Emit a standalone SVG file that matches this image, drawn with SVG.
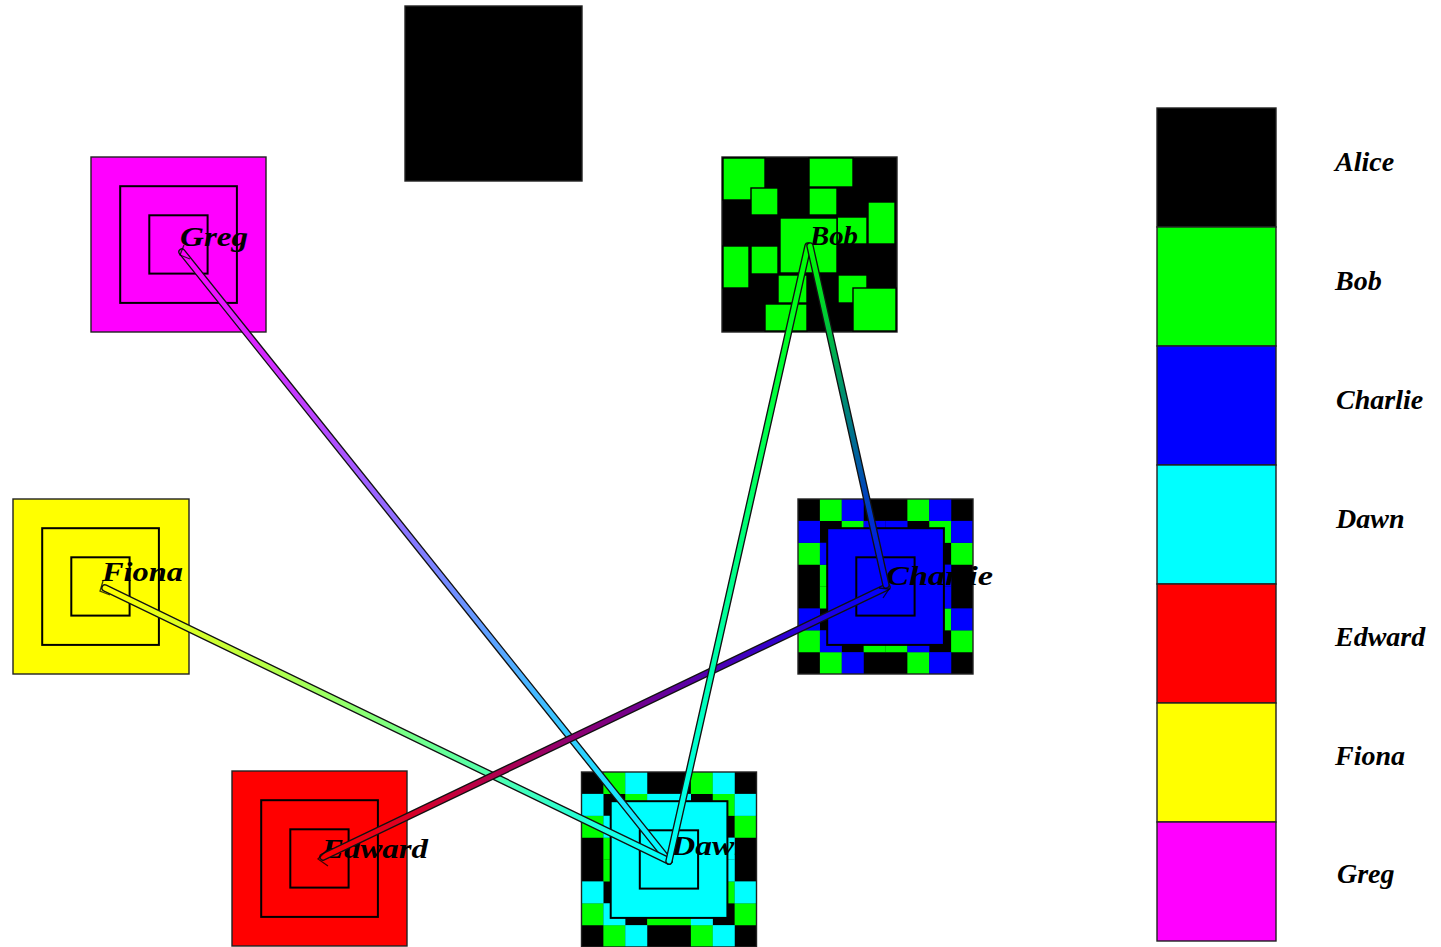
<svg xmlns="http://www.w3.org/2000/svg" xmlns:xlink="http://www.w3.org/1999/xlink" width="1441" height="947" viewBox="0 0 1441 947">
<style>
  .outer { stroke: #222; stroke-width: 1.4; }
  .ring { fill: none; stroke: #000; stroke-width: 2; }
  .mid { stroke: #000; stroke-width: 2; }
  .lbl { font-family: "Liberation Serif", "Times New Roman", serif; font-weight: bold; font-style: italic; font-size: 28px; fill: #000; }
  .bobsq { fill: #00ff00; stroke: #000; stroke-width: 1.4; }
  .tube-o { stroke: #111; stroke-width: 7.5; stroke-linecap: round; fill: none; }
  .tube-i { stroke-width: 4.8; stroke-linecap: round; fill: none; }
  .arrow { fill: none; stroke: #000; stroke-width: 1.3; stroke-opacity: 0.75; }
  .leg { stroke: #222; stroke-width: 1.4; }
</style>
<defs>
  <g id="checker">
    <rect x="0" y="0" width="175" height="175" fill="#000"/>
    <g fill="#00ff00">
      <rect x="21.875" y="0" width="22" height="22"/><rect x="109.375" y="0" width="22" height="22"/>
      <rect x="43.75" y="21.875" width="22" height="22"/><rect x="131.25" y="21.875" width="22" height="22"/>
      <rect x="0" y="43.75" width="22" height="22"/><rect x="65.625" y="43.75" width="22" height="22"/><rect x="87.5" y="43.75" width="22" height="22"/><rect x="153.125" y="43.75" width="21.875" height="22"/>
      <rect x="21.875" y="65.625" width="22" height="22"/><rect x="109.375" y="65.625" width="22" height="22"/>
      <rect x="21.875" y="87.5" width="22" height="22"/><rect x="109.375" y="87.5" width="22" height="22"/>
      <rect x="43.75" y="109.375" width="22" height="22"/><rect x="131.25" y="109.375" width="22" height="22"/>
      <rect x="0" y="131.25" width="22" height="22"/><rect x="65.625" y="131.25" width="22" height="22"/><rect x="87.5" y="131.25" width="22" height="22"/><rect x="153.125" y="131.25" width="21.875" height="22"/>
      <rect x="21.875" y="153.125" width="22" height="21.875"/><rect x="109.375" y="153.125" width="22" height="21.875"/>
    </g>
    <g fill="currentColor">
      <rect x="43.75" y="0" width="22" height="22"/><rect x="131.25" y="0" width="22" height="22"/>
      <rect x="0" y="21.875" width="22" height="22"/><rect x="65.625" y="21.875" width="22" height="22"/><rect x="87.5" y="21.875" width="22" height="22"/><rect x="153.125" y="21.875" width="21.875" height="22"/>
      <rect x="21.875" y="43.75" width="22" height="22"/><rect x="109.375" y="43.75" width="22" height="22"/>
      <rect x="43.75" y="65.625" width="22" height="22"/><rect x="131.25" y="65.625" width="22" height="22"/>
      <rect x="43.75" y="87.5" width="22" height="22"/><rect x="131.25" y="87.5" width="22" height="22"/>
      <rect x="0" y="109.375" width="22" height="22"/><rect x="65.625" y="109.375" width="22" height="22"/><rect x="87.5" y="109.375" width="22" height="22"/><rect x="153.125" y="109.375" width="21.875" height="22"/>
      <rect x="21.875" y="131.25" width="22" height="22"/><rect x="109.375" y="131.25" width="22" height="22"/>
      <rect x="43.75" y="153.125" width="22" height="21.875"/><rect x="131.25" y="153.125" width="22" height="21.875"/>
    </g>
    <rect x="0" y="0" width="175" height="175" fill="none" stroke="#222" stroke-width="1.4"/>
  </g>
  <linearGradient id="gGreg" gradientUnits="userSpaceOnUse" x1="182" y1="252" x2="669" y2="861"><stop offset="0" stop-color="#ff00ff"/><stop offset="1" stop-color="#00ffff"/></linearGradient>
  <linearGradient id="gFiona" gradientUnits="userSpaceOnUse" x1="105" y1="588" x2="669" y2="861"><stop offset="0" stop-color="#ffff00"/><stop offset="1" stop-color="#00ffff"/></linearGradient>
  <linearGradient id="gEdward" gradientUnits="userSpaceOnUse" x1="323" y1="857" x2="887" y2="587"><stop offset="0" stop-color="#ff0000"/><stop offset="1" stop-color="#0000ff"/></linearGradient>
  <linearGradient id="gBobDawn" gradientUnits="userSpaceOnUse" x1="808" y1="246" x2="669" y2="861"><stop offset="0" stop-color="#00ff00"/><stop offset="1" stop-color="#00ffff"/></linearGradient>
  <linearGradient id="gBobCharlie" gradientUnits="userSpaceOnUse" x1="810" y1="246" x2="886" y2="585"><stop offset="0" stop-color="#00ff00"/><stop offset="1" stop-color="#0000ff"/></linearGradient>
</defs>

<rect width="1441" height="947" fill="#fff"/>

<g id="node-alice">
  <rect class="outer" x="405" y="6" width="177" height="175" fill="#000"/>
</g>

<g id="node-greg">
  <rect class="outer" x="91" y="157" width="175" height="175" fill="#ff00ff"/>
  <rect class="ring" x="120.2" y="186.2" width="116.7" height="116.7"/>
  <rect class="ring" x="149.3" y="215.3" width="58.3" height="58.3"/>
  <text class="lbl" x="180" y="246" textLength="68" lengthAdjust="spacingAndGlyphs">Greg</text>
</g>

<g id="node-bob">
  <rect class="outer" x="722" y="157" width="175" height="175" fill="#000"/>
  <rect class="bobsq" x="723" y="158" width="42" height="42"/>
  <rect class="bobsq" x="751" y="188" width="27" height="27"/>
  <rect class="bobsq" x="809" y="158" width="44" height="29"/>
  <rect class="bobsq" x="809" y="188" width="28" height="27"/>
  <rect class="bobsq" x="868" y="202" width="27" height="42"/>
  <rect class="bobsq" x="837" y="217" width="30" height="27"/>
  <rect class="bobsq" x="780" y="218" width="57" height="55"/>
  <rect class="bobsq" x="723" y="246" width="26" height="42"/>
  <rect class="bobsq" x="751" y="246" width="27" height="28"/>
  <rect class="bobsq" x="778" y="275" width="29" height="28"/>
  <rect class="bobsq" x="838" y="275" width="29" height="28"/>
  <rect class="bobsq" x="853" y="288" width="43" height="43"/>
  <rect class="bobsq" x="765" y="304" width="42" height="27"/>
  <text class="lbl" x="810" y="245" textLength="48" lengthAdjust="spacingAndGlyphs">Bob</text>
</g>

<g id="node-charlie">
  <use xlink:href="#checker" href="#checker" x="798" y="499" style="color:#0000ff"/>
  <rect class="mid" x="827.2" y="528.2" width="116.7" height="116.7" fill="#0000ff"/>
  <rect class="ring" x="856.3" y="557.3" width="58.3" height="58.3"/>
  <text class="lbl" x="886" y="585" textLength="107" lengthAdjust="spacingAndGlyphs">Charlie</text>
</g>

<g id="node-dawn">
  <use xlink:href="#checker" href="#checker" x="581.5" y="772" style="color:#00ffff"/>
  <rect class="mid" x="610.7" y="801.2" width="116.7" height="116.7" fill="#00ffff"/>
  <rect class="ring" x="639.8" y="830.3" width="58.3" height="58.3"/>
  <text class="lbl" x="671" y="855" textLength="82" lengthAdjust="spacingAndGlyphs">Dawn</text>
</g>

<g id="node-edward">
  <rect class="outer" x="232" y="771" width="175" height="175" fill="#ff0000"/>
  <rect class="ring" x="261.2" y="800.2" width="116.7" height="116.7"/>
  <rect class="ring" x="290.3" y="829.3" width="58.3" height="58.3"/>
  <text class="lbl" x="322" y="858" textLength="106" lengthAdjust="spacingAndGlyphs">Edward</text>
</g>

<g id="node-fiona">
  <rect class="outer" x="13" y="499" width="176" height="175" fill="#ffff00"/>
  <rect class="ring" x="42.2" y="528.2" width="116.7" height="116.7"/>
  <rect class="ring" x="71.3" y="557.3" width="58.3" height="58.3"/>
  <text class="lbl" x="102" y="581" textLength="81" lengthAdjust="spacingAndGlyphs">Fiona</text>
</g>

<g id="connectors">
  <line class="tube-o" x1="182" y1="252" x2="669" y2="861"/>
  <line class="tube-i" x1="182" y1="252" x2="669" y2="861" stroke="url(#gGreg)"/>
  <line class="tube-o" x1="105" y1="588" x2="669" y2="861"/>
  <line class="tube-i" x1="105" y1="588" x2="669" y2="861" stroke="url(#gFiona)"/>
  <line class="tube-o" x1="323" y1="857" x2="887" y2="587"/>
  <line class="tube-i" x1="323" y1="857" x2="887" y2="587" stroke="url(#gEdward)"/>
  <line class="tube-o" x1="808" y1="246" x2="669" y2="861"/>
  <line class="tube-i" x1="808" y1="246" x2="669" y2="861" stroke="url(#gBobDawn)"/>
  <line class="tube-o" x1="810" y1="246" x2="886" y2="585"/>
  <line class="tube-i" x1="810" y1="246" x2="886" y2="585" stroke="url(#gBobCharlie)"/>
  <polyline class="arrow" points="184,245 180,255 190,259"/>
  <polyline class="arrow" points="103,581 100,591 110,595"/>
  <polyline class="arrow" points="327,850 318,859 328,866"/>
  <polyline class="arrow" points="879,588 889,589 883,598"/>
</g>

<g id="legend">
  <g id="legend-alice"><rect class="leg" x="1157" y="108" width="119" height="119" fill="#000"/><text class="lbl" x="1335" y="171">Alice</text></g>
  <g id="legend-bob"><rect class="leg" x="1157" y="227" width="119" height="119" fill="#00ff00"/><text class="lbl" x="1335" y="290">Bob</text></g>
  <g id="legend-charlie"><rect class="leg" x="1157" y="346" width="119" height="119" fill="#0000ff"/><text class="lbl" x="1336" y="409">Charlie</text></g>
  <g id="legend-dawn"><rect class="leg" x="1157" y="465" width="119" height="119" fill="#00ffff"/><text class="lbl" x="1336" y="528">Dawn</text></g>
  <g id="legend-edward"><rect class="leg" x="1157" y="584" width="119" height="119" fill="#ff0000"/><text class="lbl" x="1335" y="646">Edward</text></g>
  <g id="legend-fiona"><rect class="leg" x="1157" y="703" width="119" height="119" fill="#ffff00"/><text class="lbl" x="1335" y="765">Fiona</text></g>
  <g id="legend-greg"><rect class="leg" x="1157" y="822" width="119" height="119" fill="#ff00ff"/><text class="lbl" x="1337" y="883">Greg</text></g>
</g>
</svg>
